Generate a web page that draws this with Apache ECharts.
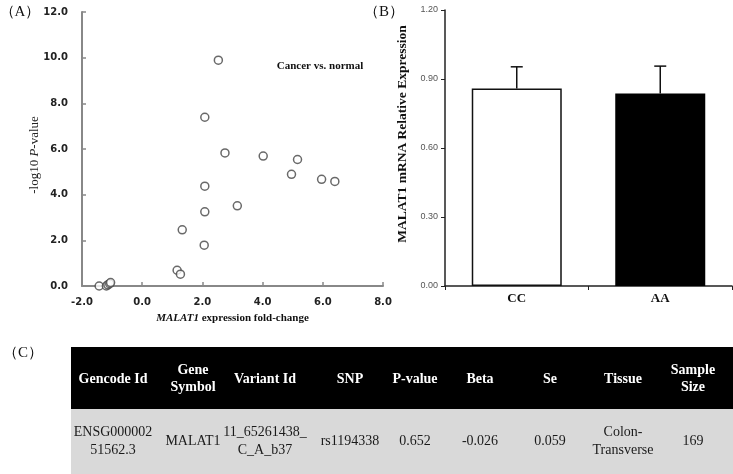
<!DOCTYPE html>
<html>
<head>
<meta charset="utf-8">
<script src="https://cdn.jsdelivr.net/npm/echarts@6/dist/echarts.min.js"></script>
<style>
html,body{margin:0;padding:0;background:#fff;}
#c{width:733px;height:474px;}
</style>
</head>
<body>
<div id="c"></div>
<script>
// ---- Panel A data: fold-change vs -log10 P ----
var foldChange = [2.53, 2.08, 2.75, 4.02, 5.16, 4.96, 5.96, 6.40, 2.08, 2.08, 3.16, 1.33, 2.06, 1.16, 1.27, -1.43, -1.19, -1.14, -1.08, -1.05];
var negLogP   = [9.89, 7.39, 5.83, 5.69, 5.54, 4.89, 4.67, 4.58, 4.37, 3.25, 3.51, 2.46, 1.79, 0.69, 0.52, 0.00, 0.00, 0.05, 0.10, 0.15];
var xTicksA = [-2, 0, 2, 4, 6, 8];
var yTicksA = [0, 2, 4, 6, 8, 10, 12];

// ---- Panel B data ----
var genotypes = ['CC', 'AA'];
var relExpr   = [0.859, 0.837];
var errUpper  = [0.953, 0.956];

// ---- Panel C table ----
var tableHeaders = ['Gencode Id', 'Gene\nSymbol', 'Variant Id', 'SNP', 'P-value', 'Beta', 'Se', 'Tissue', 'Sample\nSize'];
var tableRow     = ['ENSG000002\n51562.3', 'MALAT1', '11_65261438_\nC_A_b37', 'rs1194338', '0.652', '-0.026', '0.059', 'Colon-\nTransverse', '169'];

var serif = '"Liberation Serif","Times New Roman",serif';
var sans = '"DejaVu Sans",Verdana,sans-serif';

var scatterData = foldChange.map(function (x, i) { return [x, negLogP[i]]; });

// table layout
var colCenters = [113, 193, 265, 350, 415, 480, 550, 623, 693];
var tblLeft = 71, tblRight = 733, hdrTop = 347, hdrBot = 409, rowBot = 474;
var graphics = [
  {type:'rect', shape:{x:tblLeft, y:hdrTop, width:tblRight-tblLeft, height:hdrBot-hdrTop}, style:{fill:'#000'}},
  {type:'rect', shape:{x:tblLeft, y:hdrBot, width:tblRight-tblLeft, height:rowBot-hdrBot}, style:{fill:'#d9d9d9'}},
  {type:'text', x:20, y:12, style:{text:'（A）', font:'15px ' + serif, fill:'#111', textAlign:'center', textVerticalAlign:'middle'}},
  {type:'text', x:384, y:12, style:{text:'（B）', font:'15px ' + serif, fill:'#111', textAlign:'center', textVerticalAlign:'middle'}},
  {type:'text', x:23, y:353, style:{text:'（C）', font:'15px ' + serif, fill:'#111', textAlign:'center', textVerticalAlign:'middle'}},
  {type:'text', x:320, y:66, style:{text:'Cancer vs. normal', font:'bold 11px ' + serif, fill:'#111', textAlign:'center', textVerticalAlign:'middle'}},
  {type:'text', x:35, y:155, rotation:Math.PI/2,
   style:{text:'-log10 {i|P}-value', font:'13px ' + serif, fill:'#222', textAlign:'center', textVerticalAlign:'middle',
     rich:{i:{font:'italic 13px ' + serif, fill:'#222'}}}},
  {type:'text', x:403, y:134, rotation:Math.PI/2,
   style:{text:'MALAT1 mRNA Relative Expression', font:'bold 13.5px ' + serif, fill:'#111', textAlign:'center', textVerticalAlign:'middle'}}
];
tableHeaders.forEach(function (h, i) {
  graphics.push({type:'text', x:colCenters[i], y:(hdrTop+hdrBot)/2 + 1,
    style:{text:h, font:'bold 14px ' + serif, fill:'#fff', textAlign:'center', textVerticalAlign:'middle', lineHeight:17}});
});
tableRow.forEach(function (v, i) {
  graphics.push({type:'text', x:colCenters[i], y:441,
    style:{text:v, font:'14px ' + serif, fill:'#1a1a1a', textAlign:'center', textVerticalAlign:'middle', lineHeight:18}});
});

var chart = echarts.init(document.getElementById('c'), null, {renderer:'canvas'});
chart.setOption({
  animation: false,
  backgroundColor: '#fff',
  grid: [
    {left: 82, top: 12, width: 301, height: 274},
    {left: 445, top: 10, width: 287, height: 276}
  ],
  xAxis: [
    {gridIndex:0, type:'value', min:xTicksA[0], max:xTicksA[xTicksA.length-1], interval:2,
     axisLine:{onZero:false, lineStyle:{color:'#888', width:2}},
     axisTick:{inside:true, length:4, lineStyle:{color:'#888', width:1.5}},
     splitLine:{show:false},
     axisLabel:{formatter:function(v){return v.toFixed(1);}, fontFamily:sans, fontWeight:'bold', fontSize:10, color:'#222', margin:11},
     name:'{i|MALAT1} expression fold-change', nameLocation:'middle', nameGap:27,
     nameTextStyle:{fontFamily:serif, fontWeight:'bold', fontSize:11, color:'#111',
       rich:{i:{fontFamily:serif, fontWeight:'bold', fontStyle:'italic', fontSize:11, color:'#111'}}}
    },
    {gridIndex:1, type:'category', data:genotypes,
     axisLine:{lineStyle:{color:'#222', width:1.5}},
     axisTick:{show:true, alignWithLabel:false, length:4, lineStyle:{color:'#222'}},
     axisLabel:{fontFamily:serif, fontWeight:'bold', fontSize:13, color:'#111', margin:6}
    }
  ],
  yAxis: [
    {gridIndex:0, type:'value', min:yTicksA[0], max:yTicksA[yTicksA.length-1], interval:2,
     axisLine:{show:true, onZero:false, lineStyle:{color:'#888', width:2}},
     axisTick:{show:true, inside:true, length:4, lineStyle:{color:'#888', width:1.5}},
     splitLine:{show:false},
     axisLabel:{formatter:function(v){return v.toFixed(1);}, fontFamily:sans, fontWeight:'bold', fontSize:10, color:'#222', margin:14}
    },
    {gridIndex:1, type:'value', min:0, max:1.2, interval:0.3,
     axisLine:{show:true, lineStyle:{color:'#222', width:1.5}},
     axisTick:{show:true, length:4, lineStyle:{color:'#222'}},
     splitLine:{show:false},
     axisLabel:{formatter:function(v){return v.toFixed(2);}, fontFamily:'"Liberation Sans",Arial,sans-serif', fontSize:9, color:'#555', margin:7}
    }
  ],
  series: [
    {type:'scatter', xAxisIndex:0, yAxisIndex:0, data:scatterData, symbol:'circle', symbolSize:8, clip:false,
     itemStyle:{color:'#fff', borderColor:'#444', borderWidth:1.5}},
    {type:'bar', xAxisIndex:1, yAxisIndex:1, barWidth:90,
     data:relExpr.map(function(v,i){
       return {value:v, itemStyle: i===0 ? {color:'#fff', borderColor:'#111', borderWidth:1.5} : {color:'#000', borderColor:'#000', borderWidth:1.5}};
     })},
    {type:'custom', xAxisIndex:1, yAxisIndex:1, z:5,
     data:relExpr.map(function(v,i){return [i, v, errUpper[i]];}),
     renderItem:function(params, api){
       var base = api.coord([api.value(0), api.value(1)]);
       var top = api.coord([api.value(0), api.value(2)]);
       var cap = 6;
       return {type:'group', children:[
         {type:'line', shape:{x1:base[0], y1:base[1], x2:top[0], y2:top[1]}, style:{stroke:'#111', lineWidth:1.5}},
         {type:'line', shape:{x1:top[0]-cap, y1:top[1], x2:top[0]+cap, y2:top[1]}, style:{stroke:'#111', lineWidth:1.5}}
       ]};
     }}
  ],
  graphic: graphics
});
</script>
</body>
</html>
